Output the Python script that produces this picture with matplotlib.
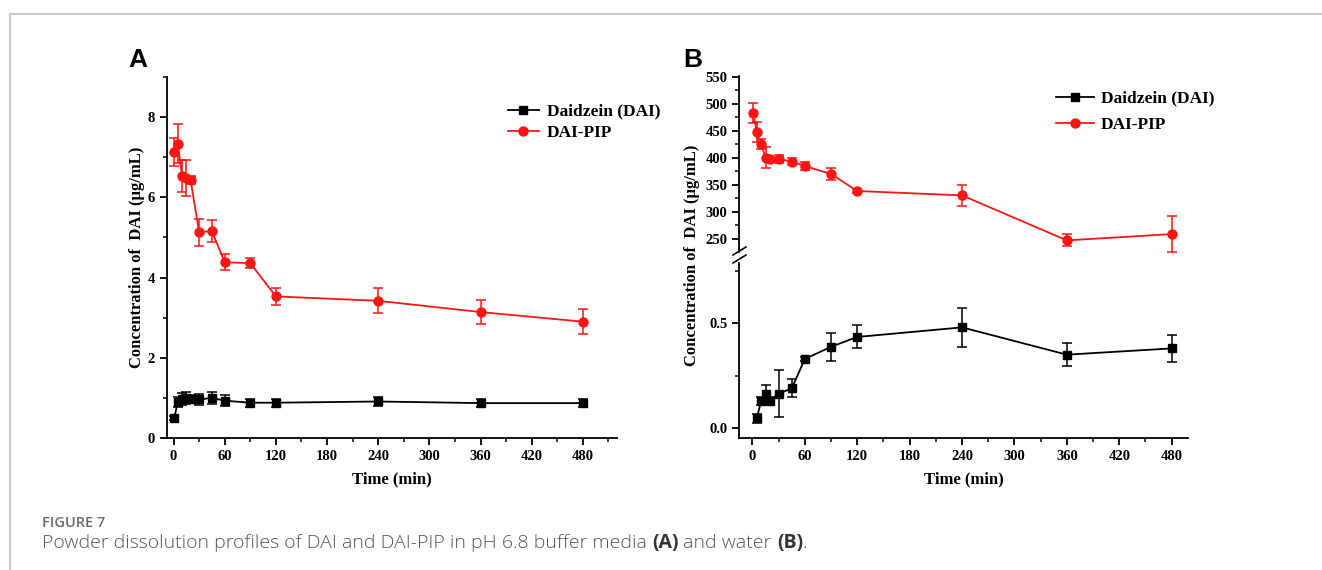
import matplotlib
matplotlib.use("Agg")
import matplotlib.pyplot as plt
from matplotlib.ticker import MultipleLocator
from matplotlib.lines import Line2D

# panel A: pH 6.8 buffer
t_a = [1, 5, 10, 15, 20, 30, 45, 60, 90, 120, 240, 360, 480]
dai_a = [0.51, 0.90, 0.98, 0.99, 0.98, 0.96, 1.00, 0.93, 0.88, 0.88, 0.91, 0.87, 0.87]
dai_a_err = [0.05, 0.12, 0.15, 0.15, 0.10, 0.14, 0.15, 0.14, 0.10, 0.10, 0.10, 0.10, 0.10]
pip_a = [7.13, 7.34, 6.53, 6.48, 6.44, 5.13, 5.16, 4.38, 4.36, 3.53, 3.42, 3.14, 2.90]
pip_a_err = [0.36, 0.48, 0.40, 0.45, 0.10, 0.34, 0.27, 0.20, 0.12, 0.21, 0.31, 0.29, 0.31]

# panel B: water
t_b_dai = [5, 10, 15, 20, 30, 45, 60, 90, 120, 240, 360, 480]
dai_b = [0.045, 0.128, 0.163, 0.128, 0.163, 0.188, 0.329, 0.388, 0.435, 0.481, 0.350, 0.380]
dai_b_err = [0.022, 0.02, 0.04, 0.02, 0.112, 0.043, 0.01, 0.067, 0.055, 0.094, 0.056, 0.063]
t_b_pip = [1, 5, 10, 15, 20, 30, 45, 60, 90, 120, 240, 360, 480]
pip_b = [482.7, 447.5, 425.3, 400, 397, 397.5, 392.6, 384.6, 369.8, 338.3, 330.2, 247, 258.6]
pip_b_err = [19, 18, 9, 19, 3, 7, 6, 8, 11, 3, 20, 11, 33]

SERIF = "Liberation Serif"
RED = "#ff1414"
fig = plt.figure(figsize=(13.22, 5.70), dpi=100)
W, H = 1322, 570

def box(l, t, r, b):
    return [l / W, 1 - b / H, (r - l) / W, (b - t) / H]

def style(ax):
    for s in ["top", "right"]:
        ax.spines[s].set_visible(False)
    for s in ["left", "bottom"]:
        ax.spines[s].set_linewidth(1.3)
    ax.tick_params(which="major", direction="out", length=5, width=1.3)
    ax.tick_params(which="minor", direction="out", length=3, width=1.1)
    for lab in ax.get_xticklabels() + ax.get_yticklabels():
        lab.set_fontfamily(SERIF)
        lab.set_fontweight("bold")
        lab.set_fontsize(10.5)

blk = dict(color="black", marker="s", ms=5.5, lw=1.3, capsize=3.5, elinewidth=1.1, capthick=1.1)
red = dict(color=RED, marker="o", ms=6.5, lw=1.3, capsize=3.5, elinewidth=1.1, capthick=1.1)
handles = [Line2D([], [], color="black", marker="s", ms=5.5, lw=1.3),
           Line2D([], [], color=RED, marker="o", ms=6.5, lw=1.3)]
labels = ["Daidzein (DAI)", "DAI-PIP"]
legprop = dict(family=SERIF, weight="bold", size=12.5)

# ---- A ----
ax = fig.add_axes(box(166.7, 77, 617, 438))
ax.errorbar(t_a, dai_a, yerr=dai_a_err, **blk)
ax.errorbar(t_a, pip_a, yerr=pip_a_err, **red)
ax.set_xlim(-8, 520)
ax.set_ylim(0, 9)
ax.xaxis.set_major_locator(MultipleLocator(60))
ax.xaxis.set_minor_locator(MultipleLocator(30))
ax.set_yticks([0, 2, 4, 6, 8])
ax.yaxis.set_minor_locator(MultipleLocator(1))
style(ax)
ax.set_xlabel("Time (min)", fontfamily=SERIF, fontweight="bold", fontsize=12, labelpad=6)
ax.set_ylabel("Concentration of  DAI (μg/mL)", fontfamily=SERIF, fontweight="bold", fontsize=12, labelpad=2)
fig.legend(handles, labels, loc="upper left", bbox_to_anchor=(492 / W, 1 - 88 / H), frameon=False,
           prop=legprop, handlelength=1.8, handletextpad=0.45, labelspacing=0.3)
fig.text(128 / W, 1 - 67 / H, "A", fontfamily="Liberation Sans", fontweight="bold", fontsize=19)

# ---- B (broken y axis) ----
axu = fig.add_axes(box(739.3, 76, 1188.3, 252))
axl = fig.add_axes(box(739.3, 263, 1188.3, 438))
for a in (axu, axl):
    a.set_xlim(-15, 499)
    a.xaxis.set_major_locator(MultipleLocator(60))
    a.xaxis.set_minor_locator(MultipleLocator(30))
    a.patch.set_alpha(0)
    a.errorbar(t_b_dai, dai_b, yerr=dai_b_err, **blk)
    a.errorbar(t_b_pip, pip_b, yerr=pip_b_err, **red)
axu.set_ylim(225.5, 551)
axu.set_yticks([250, 300, 350, 400, 450, 500, 550])
axu.yaxis.set_minor_locator(MultipleLocator(25))
axl.set_ylim(-0.05, 0.79)
axl.set_yticks([0.0, 0.5])
axl.yaxis.set_minor_locator(MultipleLocator(0.25))
axl.set_yticklabels(["0.0", "0.5"])
style(axu)
style(axl)
axu.spines["bottom"].set_visible(False)
axu.tick_params(axis="x", which="both", bottom=False, labelbottom=False)
axl.set_xlabel("Time (min)", fontfamily=SERIF, fontweight="bold", fontsize=12, labelpad=6)
fig.text(692 / W, 1 - 255 / H, "Concentration of  DAI (μg/mL)", rotation=90, ha="center", va="center",
         fontfamily=SERIF, fontweight="bold", fontsize=12)
# break marks
for yb in (251, 259):
    fig.add_artist(Line2D([733 / W, 746 / W], [1 - (yb + 4) / H, 1 - (yb - 4) / H], color="black", lw=1.2))
fig.legend(handles, labels, loc="upper left", bbox_to_anchor=(1040 / W, 1 - 75 / H), frameon=False,
           prop=legprop, handlelength=2.2, handletextpad=0.4, labelspacing=0.6)
fig.text(683 / W, 1 - 67 / H, "B", fontfamily="Liberation Sans", fontweight="bold", fontsize=19)

# frame lines
fig.add_artist(Line2D([9.5 / W, 1], [1 - 13.5 / H, 1 - 13.5 / H], color="#c8c8c8", lw=1.5))
fig.add_artist(Line2D([9.5 / W, 9.5 / W], [0, 1 - 13.5 / H], color="#c8c8c8", lw=1.5))

# caption
fig.text(42 / W, 1 - 527 / H, "FIGURE 7", fontfamily="Open Sans", fontweight="semibold",
         fontsize=10.5, color="#6b6b6b")
parts = [("Powder dissolution profiles of DAI and DAI-PIP in pH 6.8 buffer media ", "light"),
         ("(A)", "bold"), (" and water ", "light"), ("(B)", "bold"), (".", "light")]
fig.canvas.draw()
r = fig.canvas.get_renderer()
x = 42
for s, w in parts:
    t = fig.text(x / W, 1 - 548 / H, s, fontfamily="Open Sans", fontweight=w, fontsize=14,
                 color="#555555" if w != "bold" else "#333333")
    x += t.get_window_extent(r).width

fig.savefig("out.png", dpi=100)
